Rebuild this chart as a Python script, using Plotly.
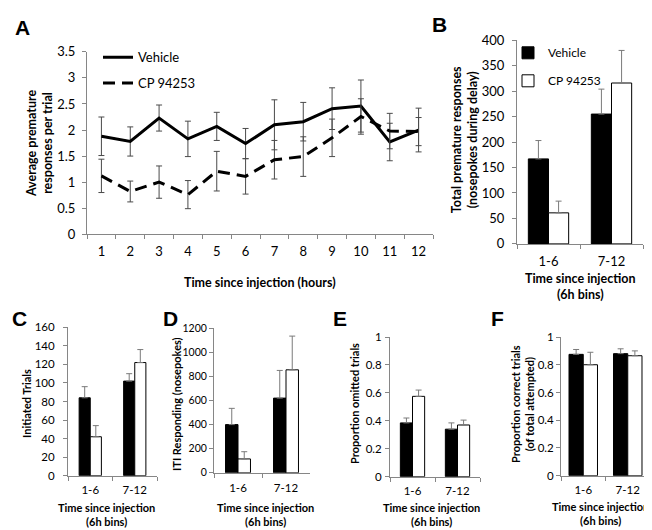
import plotly.graph_objects as go

W, H = 652, 530

# Panel A: premature responses per trial, hour by hour
hours = [str(h) for h in range(1, 13)]
veh_hourly = [1.88, 1.78, 2.23, 1.83, 2.07, 1.74, 2.10, 2.16, 2.41, 2.46, 1.77, 2.00]
veh_hourly_sem = [0.37, 0.28, 0.25, 0.34, 0.27, 0.29, 0.48, 0.37, 0.40, 0.50, 0.36, 0.42]
cp_hourly = [1.12, 0.82, 1.00, 0.76, 1.21, 1.11, 1.43, 1.49, 1.85, 2.26, 1.98, 1.97]
cp_hourly_sem = [0.32, 0.20, 0.31, 0.27, 0.38, 0.34, 0.37, 0.38, 0.36, 0.34, 0.34, 0.27]

# Panels B-F: 6h bins
bins = ["1-6", "7-12"]
veh_total = [167, 255]
veh_total_sem = [36, 49]
cp_total = [61, 316]
cp_total_sem = [23, 64]

veh_init = [84, 102]
veh_init_sem = [12, 8]
cp_init = [42, 122]
cp_init_sem = [12, 14]

veh_iti = [400, 620]
veh_iti_sem = [135, 230]
cp_iti = [115, 855]
cp_iti_sem = [60, 280]

veh_omit = [0.385, 0.34]
veh_omit_sem = [0.035, 0.045]
cp_omit = [0.575, 0.37]
cp_omit_sem = [0.045, 0.035]

veh_correct = [0.875, 0.88]
veh_correct_sem = [0.035, 0.035]
cp_correct = [0.80, 0.865]
cp_correct_sem = [0.09, 0.035]

FONT = "Lato"
AXIS_COL = "#868686"


def px_x(p):
    return p / W


def px_y(p):
    return 1 - p / H


fig = go.Figure()

# ---- Panel A (line chart)
fig.add_trace(go.Scatter(
    x=hours, y=veh_hourly, mode="lines", name="Vehicle",
    line=dict(color="black", width=3),
    error_y=dict(type="data", array=veh_hourly_sem, color="#4a4a4a", thickness=1, width=3),
    legend="legend", legendgroup="a1",
))
fig.add_trace(go.Scatter(
    x=hours, y=cp_hourly, mode="lines", name="CP 94253",
    line=dict(color="black", width=3, dash="12px,7px"),
    error_y=dict(type="data", array=cp_hourly_sem, color="#4a4a4a", thickness=1, width=3),
    legend="legend", legendgroup="a2",
))

# ---- Panels B-F (bar charts)
panels = [
    dict(s="2", xd=(509, 635), yd=(25, 235), rng=[0, 400], dt=50, bw=0.32, so=5, fs=13,
         v=veh_total, ve=veh_total_sem, c=cp_total, ce=cp_total_sem),
    dict(s="3", xd=(60, 149), yd=(321, 474), rng=[0, 160], dt=20, bw=0.25, so=6, fs=11.5,
         v=veh_init, ve=veh_init_sem, c=cp_init, ce=cp_init_sem),
    dict(s="4", xd=(206, 302), yd=(322, 471), rng=[0, 1200], dt=200, bw=0.26, so=0, fs=10.5,
         v=veh_iti, ve=veh_iti_sem, c=cp_iti, ce=cp_iti_sem),
    dict(s="5", xd=(382, 472), yd=(331, 475), rng=[0, 1], dt=0.2, bw=0.27, so=1, fs=11.5,
         v=veh_omit, ve=veh_omit_sem, c=cp_omit, ce=cp_omit_sem),
    dict(s="6", xd=(553, 642), yd=(331, 474), rng=[0, 1], dt=0.2, bw=0.32, so=0, fs=11.5,
         v=veh_correct, ve=veh_correct_sem, c=cp_correct, ce=cp_correct_sem),
]

for p in panels:
    first = p["s"] == "2"
    for name, vals, errs, fill, off in [
        ("Vehicle", p["v"], p["ve"], "black", -p["bw"]),
        ("CP 94253", p["c"], p["ce"], "white", 0),
    ]:
        fig.add_trace(go.Bar(
            x=bins, y=vals, name=name, width=p["bw"], offset=off,
            marker=dict(color=fill, line=dict(color="black", width=1)),
            error_y=dict(type="data", array=errs, arrayminus=[0] * len(errs),
                         symmetric=False, color="#7a7a7a", thickness=1, width=3),
            xaxis="x" + p["s"], yaxis="y" + p["s"],
            showlegend=first, legend="legend2",
            legendgroup="b" + name,
        ))

axis_common = dict(
    showline=True, linecolor=AXIS_COL, linewidth=1, ticks="outside",
    ticklen=4, tickcolor=AXIS_COL, showgrid=False, zeroline=False,
    tickfont=dict(family=FONT, size=13, color="black"),
)

layout = dict(
    width=W, height=H, margin=dict(l=0, r=0, t=0, b=0),
    paper_bgcolor="white", plot_bgcolor="white",
    font=dict(family=FONT, color="black"),
    barmode="overlay",
    xaxis=dict(axis_common, domain=[px_x(79), px_x(425)], anchor="y",
               type="category", tickson="boundaries", range=[-0.5, 11.5],
               ticklabelstandoff=5),
    yaxis=dict(axis_common, domain=[px_y(225), px_y(37)], anchor="x",
               range=[0, 3.5], dtick=0.5, ticklabelstandoff=4),
    legend=dict(x=px_x(90), y=px_y(27), xanchor="left", yanchor="top",
                bgcolor="rgba(0,0,0,0)", traceorder="grouped", tracegroupgap=6,
                font=dict(family=FONT, size=13)),
    legend2=dict(x=px_x(500), y=px_y(23), xanchor="left", yanchor="top",
                 bgcolor="rgba(0,0,0,0)", traceorder="grouped", tracegroupgap=9,
                 itemwidth=30, font=dict(family=FONT, size=12)),
)

for p in panels:
    small = p["s"] != "2"
    tf = dict(family=FONT, size=p["fs"], color="black")
    xf = dict(family=FONT, size=11.5 if small else 13, color="black")
    layout["xaxis" + p["s"]] = dict(
        axis_common, domain=[px_x(p["xd"][0]), px_x(p["xd"][1])],
        anchor="y" + p["s"], type="category", tickson="boundaries",
        range=[-0.5, 1.5], tickfont=xf, ticklabelstandoff=4 if small else 5,
    )
    layout["yaxis" + p["s"]] = dict(
        axis_common, domain=[px_y(p["yd"][1]), px_y(p["yd"][0])],
        anchor="x" + p["s"], range=p["rng"], dtick=p["dt"], tickfont=tf,
        ticklabelstandoff=p["so"],
    )

fig.update_layout(layout)

# ---- Text: panel letters and axis titles
annots = []


def txt(x, y, text, size, bold=True, angle=0, family=FONT):
    t = "<b>%s</b>" % text if bold else text
    annots.append(dict(
        x=px_x(x), y=px_y(y), xref="paper", yref="paper", text=t,
        showarrow=False, textangle=angle, xanchor="center", yanchor="middle",
        font=dict(family=family, size=size, color="black"),
    ))


for letter, lx, ly in [("A", 14, 12), ("B", 431, 9), ("C", 11, 312),
                       ("D", 162, 312), ("E", 332, 312), ("F", 489, 312)]:
    txt(lx, ly, letter, 21, family="Liberation Sans")

txt(252, 275, "Time since injection (hours)", 12.5)
txt(31, 131, "Average premature<br>responses per trial", 12.5, angle=-90)

txt(572, 279, "Time since injection<br>(6h bins)", 12.5)
txt(456, 128, "Total premature responses<br>(nosepokes during delay)", 12.5, angle=-90)

for cx, cy, ylab, yx in [(98, 514, "Initiated Trials", 19),
                         (257, 514, "ITI Responding (nosepokes)", 169),
                         (423, 514, "Proportion omitted trials", 347),
                         (592, 513, "Proportion correct trials<br>(of total attempted)", 515)]:
    txt(cx, cy, "Time since injection<br>(6h bins)", 11)
    txt(yx, 400, ylab, 11, angle=-90)

fig.update_layout(annotations=annots)

fig.write_html("out.html")
